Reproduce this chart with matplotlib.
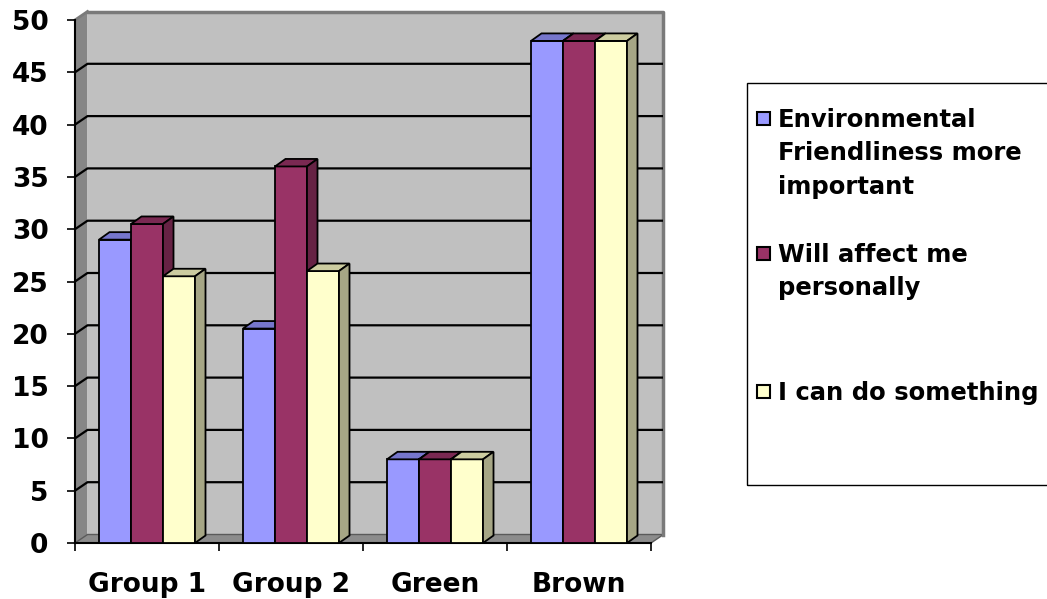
import matplotlib
matplotlib.use('Agg')
import matplotlib.pyplot as plt
from matplotlib.patches import Polygon, Rectangle
import numpy as np

plt.rcParams['font.family'] = ['DejaVu Sans']
plt.rcParams['font.weight'] = 'bold'

# survey results per group
categories = ['Group 1', 'Group 2', 'Green', 'Brown']
series_names = ['Environmental\nFriendliness more\nimportant',
                'Will affect me\npersonally',
                'I can do something']
env_friendly = [29, 20.5, 8, 48]
affect_me = [30.5, 36, 8, 48]
can_do = [25.5, 26, 8, 48]
yticks = list(range(0, 55, 5))

front_cols = ['#9999FF', '#993366', '#FFFFCC']
top_cols = ['#7676CC', '#7A2952', '#CCCCA0']
side_cols = ['#6868B0', '#662244', '#A6A685']

W, H = 1047, 599
fs_axis = 19
fs_leg = 17.5

fig = plt.figure(figsize=(W / 100, H / 100), dpi=100)

# front frame of the plot in pixels
x0_px, x1_px = 75, 651
y0_px, y1_px = 543, 20
wall_dx, wall_dy = 12.5, 8.5      # depth of the walls
bar_dx, bar_dy = 10.5, 7.5        # depth of the bars

ux = (x1_px - x0_px) / 4.0
uy = (y0_px - y1_px) / 50.0
wdx, wdy = wall_dx / ux, wall_dy / uy
bdx, bdy = bar_dx / ux, bar_dy / uy

ax = fig.add_axes([x0_px / W, 1 - y0_px / H,
                   (x1_px + wall_dx - x0_px) / W, (y0_px - y1_px + wall_dy) / H])
ax.set_xlim(-0.5, 3.5 + wdx)
ax.set_ylim(0, 50 + wdy)
ax.patch.set_visible(False)

# walls and floor
ax.add_patch(Polygon([(-0.5, 0), (-0.5, 50), (-0.5 + wdx, 50 + wdy), (-0.5 + wdx, wdy)],
                     closed=True, fc='#868686', ec='none', zorder=0))
ax.add_patch(Rectangle((-0.5 + wdx, wdy), 4, 50, fc='#C0C0C0', ec='none', zorder=0))
ax.add_patch(Polygon([(-0.5, 0), (3.5, 0), (3.5 + wdx, wdy), (-0.5 + wdx, wdy)],
                     closed=True, fc='#8C8C8C', ec='#5A5A5A', lw=1, zorder=0.5))
ax.plot([-0.5 + wdx, 3.5 + wdx, 3.5 + wdx], [50 + wdy, 50 + wdy, wdy],
        color='#7A7A7A', lw=2.5, zorder=0.6, clip_on=False)
ax.plot([-0.5, -0.5 + wdx], [50, 50 + wdy], color='#7A7A7A', lw=2, zorder=0.6, clip_on=False)

for v in yticks[1:-1]:
    ax.plot([-0.5, -0.5 + wdx, 3.5 + wdx], [v, v + wdy, v + wdy],
            color='black', lw=1.6, zorder=1)

# bars with top and side faces
x = np.arange(len(categories))
w = 2.0 / 9
series = [env_friendly, affect_me, can_do]
for i, vals in enumerate(series):
    xs = x + (i - 1) * w
    z = 3 + i
    ax.bar(xs, vals, width=w, color=front_cols[i], edgecolor='black', lw=1.3, zorder=z)
    for xc, v in zip(xs, vals):
        xl, xr = xc - w / 2, xc + w / 2
        ax.add_patch(Polygon([(xl, v), (xr, v), (xr + bdx, v + bdy), (xl + bdx, v + bdy)],
                             closed=True, fc=top_cols[i], ec='black', lw=1.3, zorder=z))
        ax.add_patch(Polygon([(xr, 0), (xr, v), (xr + bdx, v + bdy), (xr + bdx, bdy)],
                             closed=True, fc=side_cols[i], ec='black', lw=1.3, zorder=z))

# axes lines and ticks
for s in ['top', 'right']:
    ax.spines[s].set_visible(False)
ax.spines['left'].set_bounds(0, 50)
ax.spines['bottom'].set_bounds(-0.5, 3.5)
ax.spines['left'].set_linewidth(1.5)
ax.spines['bottom'].set_linewidth(1.5)
ax.spines['left'].set_zorder(2)

ax.set_yticks(yticks)
ax.set_yticklabels([str(t) for t in yticks], fontsize=fs_axis, fontweight='bold')
ax.tick_params(axis='y', length=6, width=1.2, pad=13)

ax.set_xticks([-0.5, 0.5, 1.5, 2.5, 3.5])
ax.set_xticklabels([])
ax.tick_params(axis='x', which='major', length=6, width=1.2)
ax.set_xticks(x, minor=True)
ax.set_xticklabels(categories, minor=True, fontsize=fs_axis, fontweight='bold')
ax.tick_params(axis='x', which='minor', length=0, pad=21)

# legend box
fig.add_artist(Rectangle((747 / W, 1 - 485 / H), (W - 747 + 20) / W, (485 - 83) / H,
                         transform=fig.transFigure, fill=False, ec='black', lw=1))
entry_y = [118, 253, 391]
for i, name in enumerate(series_names):
    cy = entry_y[i]
    fig.add_artist(Rectangle((757 / W, 1 - (cy + 6.5) / H), 13 / W, 13 / H,
                             transform=fig.transFigure, fc=front_cols[i], ec='black', lw=1.5))
    fig.text(778 / W, 1 - (cy - 10) / H, name, fontsize=fs_leg, fontweight='bold',
             ha='left', va='top', linespacing=1.5)

fig.savefig('out.png', dpi=100)
